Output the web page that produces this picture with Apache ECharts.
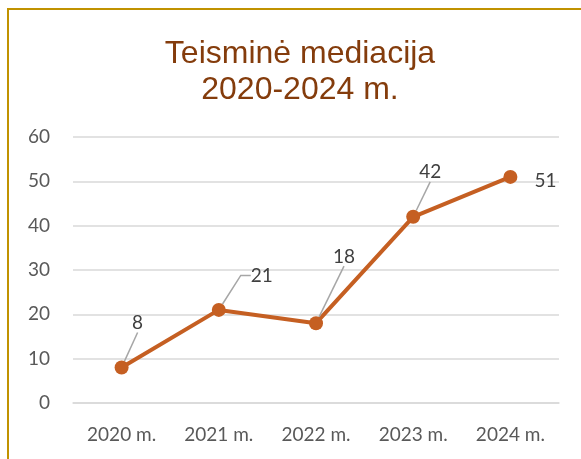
<!DOCTYPE html>
<html>
<head>
<meta charset="utf-8">
<script src="https://cdn.jsdelivr.net/npm/echarts@6/dist/echarts.min.js"></script>
<style>
  html, body { margin: 0; padding: 0; background: #fff; }
  #chart { position: absolute; left: 0; top: 0; width: 581px; height: 459px; }
  #frame { position: absolute; left: 7px; top: 8px; width: 600px; height: 470px;
           border-top: 2px solid #C09200; border-left: 2px solid #C09200; pointer-events: none; }
</style>
</head>
<body>
<div id="chart"></div>
<div id="frame"></div>
<script>
var years = ['2020 m.', '2021 m.', '2022 m.', '2023 m.', '2024 m.'];
var cases = [8, 21, 18, 42, 51];
// label shifts (px) from the default 'top' place, last one sits to the right
var labelShift = [[16, -23], [43, -13], [28, -45], [17, -23], [35, 25]];
// elbow length of each leader line, null = no leader line
var leaderElbow = [0, 10, 0, 0, null];

var lineColor = '#C55F22';
var ink = '#404040';
var muted = '#595959';
var rule = '#D9D9D9';
var font = 'Lato';

var chart = echarts.init(document.getElementById('chart'), null, { renderer: 'canvas' });
chart.setOption({
  animation: false,
  title: {
    text: 'Teisminė mediacija\n2020-2024 m.',
    left: 295,
    textAlign: 'center',
    top: 31,
    textStyle: {
      color: '#843C0C',
      fontFamily: 'Liberation Sans',
      fontSize: 32,
      fontWeight: 'normal',
      lineHeight: 36
    }
  },
  grid: { left: 73, right: 22, top: 137, bottom: 56 },
  xAxis: {
    type: 'category',
    data: years,
    boundaryGap: true,
    axisLine: { lineStyle: { color: rule, width: 1.5 } },
    axisTick: { show: false },
    axisLabel: { color: muted, fontSize: 19, fontFamily: font, margin: 22 }
  },
  yAxis: {
    type: 'value',
    min: 0,
    max: 60,
    interval: 10,
    axisLine: { show: false },
    axisTick: { show: false },
    splitLine: { lineStyle: { color: rule, width: 1.5 } },
    axisLabel: { color: muted, fontSize: 19, fontFamily: font, margin: 23 }
  },
  series: [{
    type: 'line',
    data: cases.map(function(v, i) {
      var e = leaderElbow[i];
      return { value: v, labelLine: e === null ? { show: false } : { show: true, length2: e } };
    }),
    symbol: 'circle',
    symbolSize: 14,
    lineStyle: { color: lineColor, width: 4 },
    itemStyle: { color: lineColor },
    label: {
      show: true,
      position: 'top',
      color: ink,
      fontSize: 19,
      fontFamily: font
    },
    labelLine: {
      show: true,
      lineStyle: { color: '#A6A6A6', width: 1.5 }
    },
    labelLayout: function(p) {
      var s = labelShift[p.dataIndex];
      return { dx: s[0], dy: s[1] };
    }
  }]
});
window.addEventListener('resize', function() { chart.resize(); });
</script>
</body>
</html>
